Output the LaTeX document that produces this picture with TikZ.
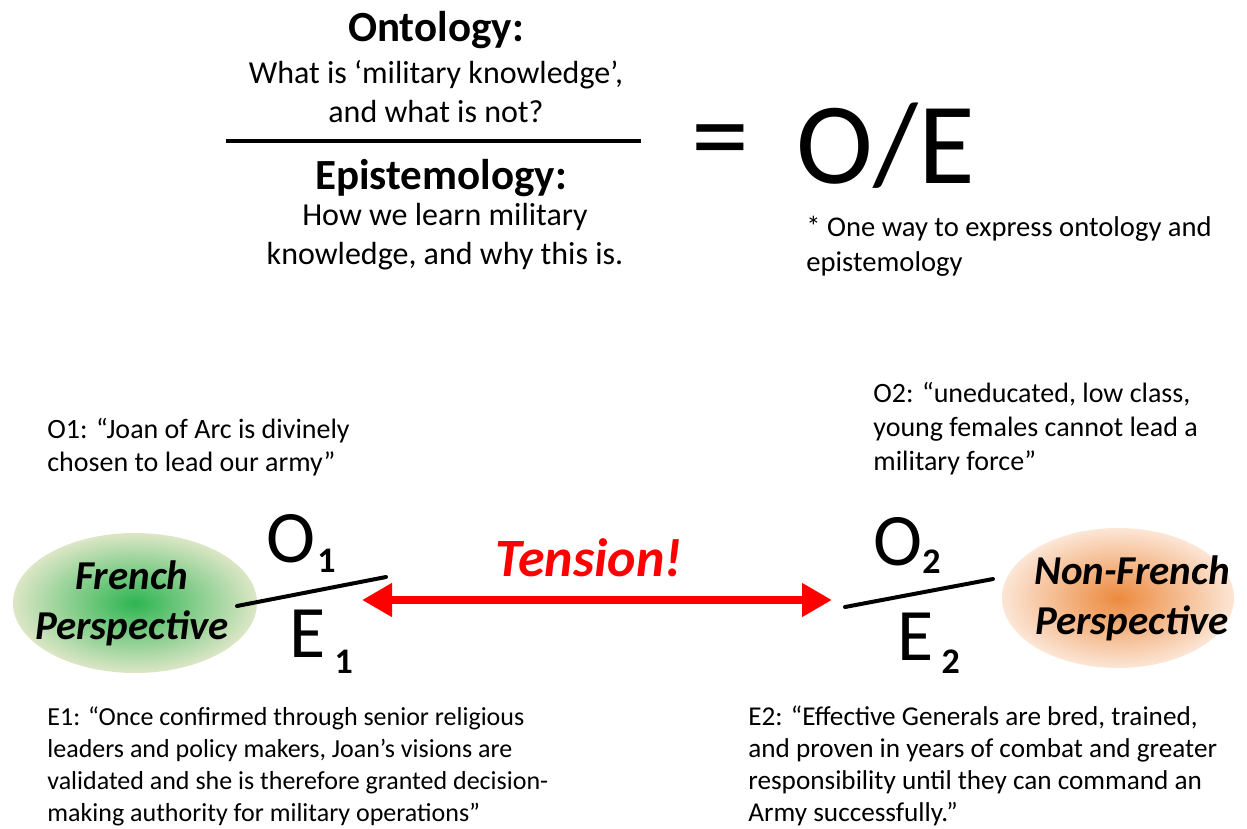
\documentclass[tikz,border=0pt]{standalone}
\usepackage{fontspec}
\setmainfont{Carlito}
\usetikzlibrary{arrows.meta,shapes.geometric}

\definecolor{frgreen}{HTML}{2EB551}
\definecolor{frpale}{HTML}{DCE6C6}
\definecolor{nforange}{HTML}{EC8A3E}
\definecolor{nfpale}{HTML}{FCE6D6}
\definecolor{tensionred}{HTML}{FF0000}

\newcommand{\lowsub}[3]{\hspace{#1}\raisebox{#2}{\bfseries\fontsize{18}{18}\selectfont #3}}

\tikzset{
  note/.style={align=left, inner sep=0pt, font=\fontsize{14}{16.5}\selectfont},
  topline/.style={align=center, inner sep=0pt, font=\fontsize{16}{19.5}\selectfont},
  heading/.style={inner sep=0pt, font=\bfseries\fontsize{21.5}{22}\selectfont},
  persp/.style={ellipse, inner sep=0pt, shading=radial},
  persptext/.style={inner sep=0pt, align=center, font=\bfseries\itshape\fontsize{20.5}{25}\selectfont},
  bigletter/.style={inner sep=0pt, anchor=base west, font=\fontsize{37}{40}\selectfont},
  bar/.style={line width=2pt, line cap=round}
}

\begin{document}
\begin{tikzpicture}[x=0.5pt, y=-0.5pt]
  \useasboundingbox (0,0) rectangle (1247,829);

  % Ontology over epistemology
  \node[heading] (onto) at (436,30) {Ontology:};
  \node[topline] (ontotxt) at (436,92) {What is ‘military knowledge’,\\and what is not?};
  \coordinate (barL) at (226,141);
  \coordinate (barR) at (641,141);
  \draw[line width=2pt] (barL) -- (barR);
  \node[heading] (epis) at (441,178) {Epistemology:};
  \node[topline] (epistxt) at (445,237) {How we learn military\\knowledge, and why this is.};

  % = O/E
  \node[inner sep=0pt, font=\fontsize{58}{60}\selectfont] (eq) at (720,150) {=};
  \node[inner sep=0pt, font=\fontsize{58}{60}\selectfont] (oe) at (886,146) {O/E};
  \node[note, font=\fontsize{14.3}{17.5}\selectfont, anchor=west] (star) at (806,246) {* One way to express ontology and\\epistemology};

  % Ontology quotes
  \node[note, anchor=west] (o1txt) at (47,447) {O1: “Joan of Arc is divinely\\chosen to lead our army”};
  \node[note, font=\fontsize{14}{17}\selectfont, anchor=west] (o2txt) at (873,429) {O2: “uneducated, low class,\\young females cannot lead a\\military force”};

  % Perspectives
  \node[persp, minimum width=122pt, minimum height=70pt, inner color=frgreen, outer color=frpale] (french) at (135,603) {};
  \node[persptext] (frenchtxt) at ([xshift=-1.5pt]french.center) {French\\Perspective};
  \node[persp, minimum width=116pt, minimum height=70pt, inner color=nforange, outer color=nfpale] (nonfrench) at (1118,598) {};
  \node[persptext] (nonfrenchtxt) at ([xshift=7pt]nonfrench.center) {Non-French\\Perspective};

  % O1/E1
  \coordinate (f1a) at (237,606);
  \coordinate (f1b) at (386,577);
  \draw[bar] (f1a) -- (f1b);
  \node[bigletter] (o1) at (266,562) {O\lowsub{1pt}{-5pt}{1}};
  \node[bigletter] (e1) at (289,657) {E\lowsub{4.5pt}{-8pt}{1}};

  % O2/E2
  \coordinate (f2a) at (845,607);
  \coordinate (f2b) at (993,579);
  \draw[bar] (f2a) -- (f2b);
  \node[bigletter] (o2) at (873,565) {O\lowsub{0pt}{-4pt}{2}};
  \node[bigletter] (e2) at (897,660) {E\lowsub{4pt}{-6.5pt}{2}};

  % Tension
  \node[inner sep=0pt, text=tensionred, font=\bfseries\itshape\fontsize{27}{27}\selectfont] (tension) at (589,558) {Tension!};
  \coordinate (tl) at (362,600);
  \coordinate (tr) at (832,600);
  \draw[tensionred, line width=4pt, {Triangle[length=15pt,width=16pt]}-{Triangle[length=15pt,width=16pt]}] (tl) -- (tr);

  % Epistemology quotes
  \node[note, font=\fontsize{13}{16}\selectfont, anchor=west] (e1txt) at (47,766) {E1: “Once confirmed through senior religious\\leaders and policy makers, Joan’s visions are\\validated and she is therefore granted decision-\\making authority for military operations”};
  \node[note, font=\fontsize{13.6}{16}\selectfont, anchor=west] (e2txt) at (748,766) {E2: “Effective Generals are bred, trained,\\and proven in years of combat and greater\\responsibility until they can command an\\Army successfully.”};
\end{tikzpicture}
\end{document}
